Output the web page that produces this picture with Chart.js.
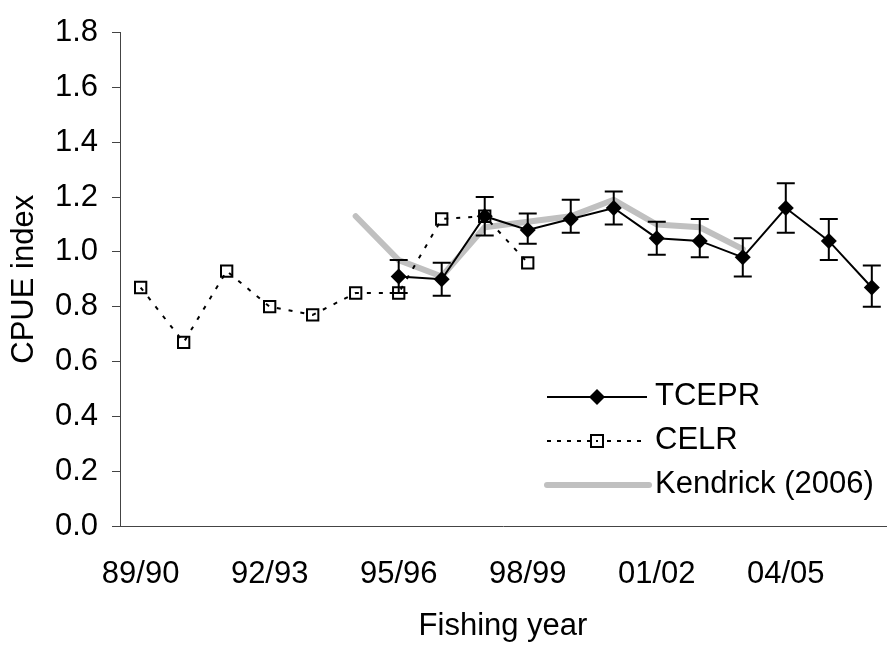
<!DOCTYPE html>
<html>
<head>
<meta charset="utf-8">
<title>CPUE index</title>
<script src="https://cdn.jsdelivr.net/npm/chart.js@4.4.1/dist/chart.umd.min.js"></script>
<style>
    html, body { margin: 0; padding: 0; background: #fff; }
    #wrap { width: 896px; height: 648px; }
</style>
</head>
<body>
<div id="wrap"><canvas id="cpueChart"></canvas></div>
<script>
// Fishing years (one point per year) and which ones get a label
const years = ['89/90', '90/91', '91/92', '92/93', '93/94', '94/95', '95/96', '96/97', '97/98',
               '98/99', '99/00', '00/01', '01/02', '02/03', '03/04', '04/05', '05/06', '06/07'];
const labelYears = ['89/90', '92/93', '95/96', '98/99', '01/02', '04/05'];

// CPUE series
const tcepr     = [null, null, null, null, null, null, 0.91, 0.90, 1.13, 1.08, 1.12, 1.16, 1.05, 1.04, 0.98, 1.16, 1.04, 0.87];
const tceprLow  = [null, null, null, null, null, null, 0.85, 0.84, 1.06, 1.03, 1.07, 1.10, 0.99, 0.98, 0.91, 1.07, 0.97, 0.80];
const tceprHigh = [null, null, null, null, null, null, 0.97, 0.96, 1.20, 1.14, 1.19, 1.22, 1.11, 1.12, 1.05, 1.25, 1.12, 0.95];
const celr      = [0.87, 0.67, 0.93, 0.80, 0.77, 0.85, 0.85, 1.12, 1.13, 0.96, null, null, null, null, null, null, null, null];
const kendrick  = [null, null, null, null, null, 1.13, 0.97, 0.91, 1.09, 1.11, 1.13, 1.19, 1.10, 1.09, 1.01, null, null, null];

const FONT = "'Liberation Sans', Arial, sans-serif";
Chart.defaults.font.family = FONT;
Chart.defaults.font.size = 31;
Chart.defaults.color = '#000';

function toPoints(arr) {
    return arr.map((v, i) => ({ x: i, y: v }));
}

/**
 * Error bars for TCEPR, drawn right after the grey line
 */
const errorBars = {
    id: 'errorBars',
    afterDatasetDraw(chart, args) {
        if (args.index !== 2) return;
        const { ctx, scales: { x, y } } = chart;
        ctx.save();
        ctx.strokeStyle = '#000';
        ctx.lineWidth = 2;
        tceprLow.forEach((lo, i) => {
            if (lo === null) return;
            const px = x.getPixelForValue(i);
            const yLo = y.getPixelForValue(lo);
            const yHi = y.getPixelForValue(tceprHigh[i]);
            ctx.beginPath();
            ctx.moveTo(px, yLo);
            ctx.lineTo(px, yHi);
            ctx.moveTo(px - 9, yLo);
            ctx.lineTo(px + 9, yLo);
            ctx.moveTo(px - 9, yHi);
            ctx.lineTo(px + 9, yHi);
            ctx.stroke();
        });
        ctx.restore();
    }
};

/**
 * Legend in the lower right of the plot, Excel style
 */
const insideLegend = {
    id: 'insideLegend',
    afterDraw(chart) {
        const ctx = chart.ctx;
        const x0 = 547, x1 = 647, mid = 597, tx = 655;
        ctx.save();

        // TCEPR
        let y = 397;
        ctx.strokeStyle = '#000';
        ctx.lineWidth = 2;
        ctx.beginPath();
        ctx.moveTo(x0, y);
        ctx.lineTo(x1, y);
        ctx.stroke();
        ctx.fillStyle = '#000';
        ctx.beginPath();
        ctx.moveTo(mid - 8, y);
        ctx.lineTo(mid, y - 8);
        ctx.lineTo(mid + 8, y);
        ctx.lineTo(mid, y + 8);
        ctx.closePath();
        ctx.fill();

        // CELR
        y = 441;
        ctx.setLineDash([4, 6]);
        ctx.beginPath();
        ctx.moveTo(x0, y);
        ctx.lineTo(x1, y);
        ctx.stroke();
        ctx.setLineDash([]);
        ctx.fillStyle = '#fff';
        ctx.fillRect(mid - 6, y - 6, 12, 12);
        ctx.strokeRect(mid - 6, y - 6, 12, 12);
        ctx.fillStyle = '#000';
        ctx.fillRect(mid - 1, y - 1, 2, 2);

        // Kendrick
        y = 485;
        ctx.strokeStyle = '#c0c0c0';
        ctx.lineWidth = 6;
        ctx.lineCap = 'round';
        ctx.beginPath();
        ctx.moveTo(x0, y);
        ctx.lineTo(x1 + 2, y);
        ctx.stroke();

        ctx.fillStyle = '#000';
        ctx.font = '31px ' + FONT;
        ctx.textBaseline = 'middle';
        ctx.textAlign = 'left';
        ctx.fillText('TCEPR', tx, 396);
        ctx.fillText('CELR', tx, 440);
        ctx.fillText('Kendrick (2006)', tx, 484);
        ctx.restore();
    }
};

new Chart(document.getElementById('cpueChart'), {
    type: 'line',
    data: {
        datasets: [{
            label: 'TCEPR',
            data: toPoints(tcepr),
            borderColor: '#000',
            borderWidth: 2,
            pointStyle: 'rectRot',
            pointRadius: 8,
            pointBackgroundColor: '#000',
            pointBorderColor: '#000',
            pointBorderWidth: 0,
            tension: 0
        }, {
            label: 'CELR',
            data: toPoints(celr),
            borderColor: '#000',
            borderWidth: 2,
            borderDash: [4, 8],
            pointStyle: 'rect',
            pointRadius: 8,
            pointBackgroundColor: 'rgba(0,0,0,0)',
            pointBorderColor: '#000',
            pointBorderWidth: 2,
            tension: 0
        }, {
            label: 'Kendrick (2006)',
            data: toPoints(kendrick),
            borderColor: '#c0c0c0',
            borderWidth: 6,
            borderCapStyle: 'round',
            borderJoinStyle: 'round',
            pointRadius: 0,
            tension: 0
        }]
    },
    options: {
        responsive: true,
        maintainAspectRatio: false,
        animation: false,
        layout: {
            padding: { top: 22, right: 0, bottom: 0, left: 0 }
        },
        plugins: {
            legend: { display: false },
            tooltip: { enabled: false }
        },
        scales: {
            x: {
                type: 'linear',
                min: -0.48,
                max: 17.33,
                afterBuildTicks: function (scale) {
                    scale.ticks = labelYears.map(l => ({ value: years.indexOf(l) }));
                },
                afterFit: function (scale) {
                    scale.height = 122;
                },
                ticks: {
                    callback: function (value) {
                        return years[value];
                    },
                    maxRotation: 0,
                    autoSkip: false,
                    padding: 30
                },
                grid: { display: false, drawTicks: false },
                border: { display: true, color: '#444', width: 1 },
                title: {
                    display: true,
                    text: 'Fishing year',
                    padding: { top: 0, bottom: 3 }
                }
            },
            y: {
                min: 0,
                max: 1.8,
                afterFit: function (scale) {
                    scale.width = 120;
                },
                ticks: {
                    stepSize: 0.2,
                    padding: 14,
                    callback: function (value) {
                        return value.toFixed(1);
                    }
                },
                grid: {
                    drawOnChartArea: false,
                    drawTicks: true,
                    tickLength: 8,
                    color: '#444'
                },
                border: { display: true, color: '#444', width: 1 },
                title: {
                    display: true,
                    text: 'CPUE index',
                    padding: { top: 6, bottom: 0 }
                }
            }
        }
    },
    plugins: [errorBars, insideLegend]
});
</script>
</body>
</html>
